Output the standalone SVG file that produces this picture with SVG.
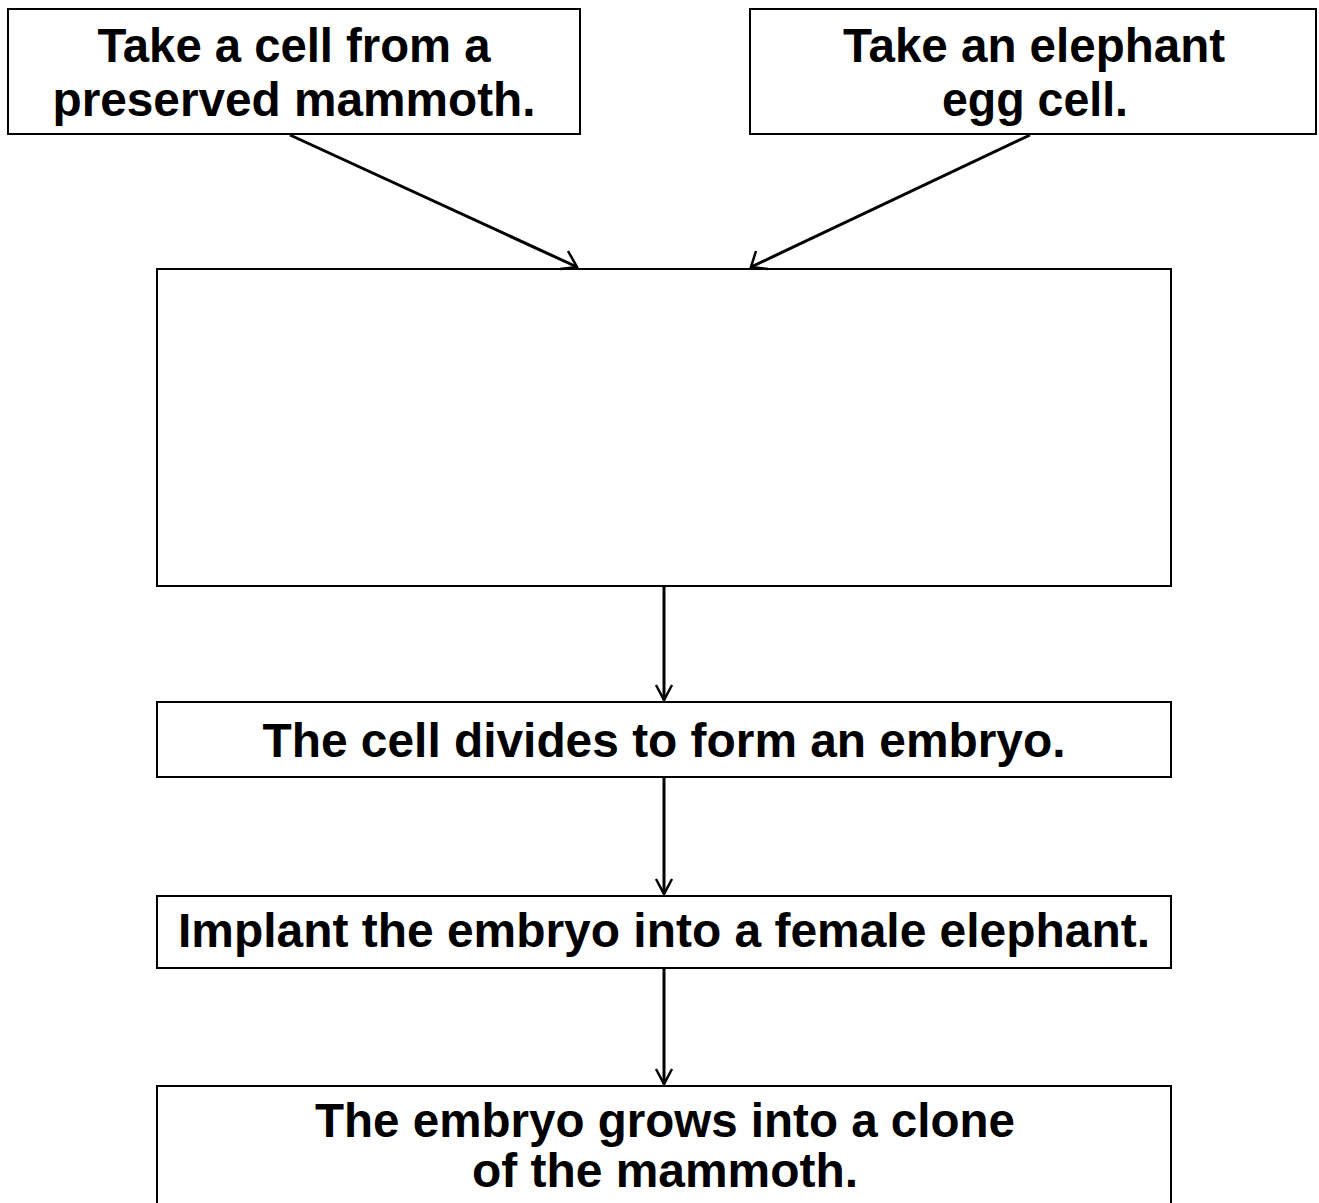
<svg xmlns="http://www.w3.org/2000/svg" width="1319" height="1203" viewBox="0 0 1319 1203">
<style>
.box{fill:#fff;stroke:#000;stroke-width:2}
.t{font-family:"Liberation Sans",Arial,sans-serif;font-weight:bold;font-size:48px;fill:#000;text-anchor:middle}
.c{stroke:#000;stroke-width:3;fill:none}
.h{stroke:#000;stroke-width:2.5;fill:none}
</style>
<rect width="1319" height="1203" fill="#fff"/>
<g id="n1"><rect class="box" x="8" y="9" width="572" height="125"/>
<text class="t" x="294" y="62" textLength="393" lengthAdjust="spacingAndGlyphs">Take a cell from a</text>
<text class="t" x="294" y="116" textLength="483" lengthAdjust="spacingAndGlyphs">preserved mammoth.</text></g>
<g id="n2"><rect class="box" x="750" y="9" width="566" height="125"/>
<text class="t" x="1034" y="62" textLength="382" lengthAdjust="spacingAndGlyphs">Take an elephant</text>
<text class="t" x="1035" y="116" textLength="186" lengthAdjust="spacingAndGlyphs">egg cell.</text></g>
<g id="n3"><rect class="box" x="157" y="269" width="1014" height="317"/></g>
<g id="n4"><rect class="box" x="157" y="702" width="1014" height="75"/>
<text class="t" x="664" y="757" textLength="803" lengthAdjust="spacingAndGlyphs">The cell divides to form an embryo.</text></g>
<g id="n5"><rect class="box" x="157" y="896" width="1014" height="72"/>
<text class="t" x="664" y="947" textLength="972" lengthAdjust="spacingAndGlyphs">Implant the embryo into a female elephant.</text></g>
<g id="n6"><rect class="box" x="157" y="1086" width="1014" height="130"/>
<text class="t" x="665" y="1137" textLength="700" lengthAdjust="spacingAndGlyphs">The embryo grows into a clone</text>
<text class="t" x="665" y="1187" textLength="386" lengthAdjust="spacingAndGlyphs">of the mammoth.</text></g>
<g id="connectors">
<line class="c" x1="290" y1="135" x2="577" y2="267"/>
<path class="h" d="M568 251 L577 267 L560 269"/>
<line class="c" x1="1030" y1="135" x2="751" y2="267"/>
<path class="h" d="M756 251 L751 267 L768 269"/>
<line class="c" x1="664" y1="587" x2="664" y2="700"/>
<path class="h" d="M656 685 L664 700 L672 685"/>
<line class="c" x1="664" y1="778" x2="664" y2="894"/>
<path class="h" d="M656 879 L664 894 L672 879"/>
<line class="c" x1="664" y1="969" x2="664" y2="1084"/>
<path class="h" d="M656 1069 L664 1084 L672 1069"/>
</g>
</svg>
